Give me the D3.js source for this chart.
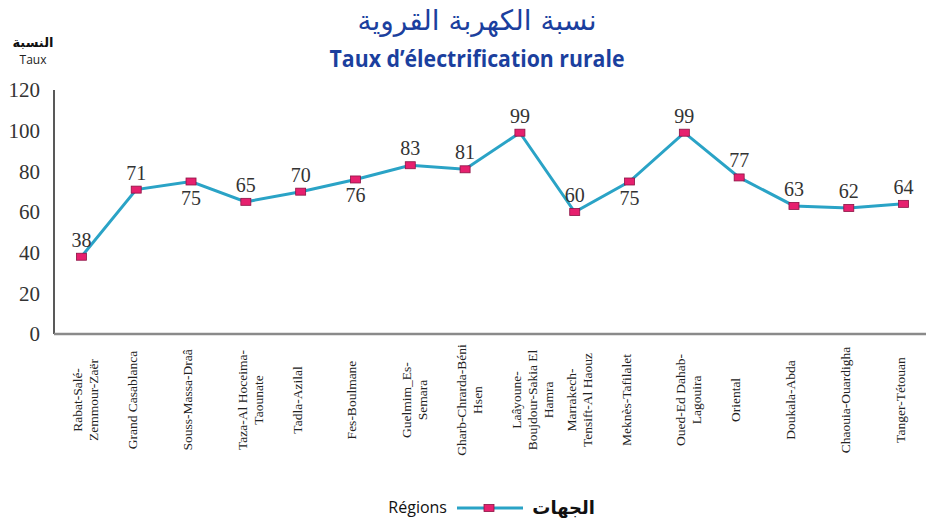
<!DOCTYPE html>
<html>
<head>
<meta charset="utf-8">
<script src="https://cdn.jsdelivr.net/npm/d3@7"></script>
<style>
  body { margin: 0; background: #fff; }
  svg { display: block; }
</style>
</head>
<body>
<div id="chart"></div>
<script>
// regions (label lines) and electrification rate (%)
var regions = [
    ["Rabat-Salé-", "Zemmour-Zaër"],
    ["Grand Casablanca"],
    ["Souss-Massa-Draâ"],
    ["Taza-Al Hoceima-", "Taounate"],
    ["Tadla-Azilal"],
    ["Fes-Boulmane"],
    ["Guelmim_Es-", "Semara"],
    ["Gharb-Chrarda-Béni", "Hsen"],
    ["Laâyoune-", "Boujdour-Sakia El", "Hamra"],
    ["Marrakech-", "Tensift-Al Haouz"],
    ["Meknès-Tafilalet"],
    ["Oued-Ed Dahab-", "Lagouira"],
    ["Oriental"],
    ["Doukala-Abda"],
    ["Chaouia-Ouardigha"],
    ["Tanger-Tétouan"]
];
var rates = [38, 71, 75, 65, 70, 76, 83, 81, 99, 60, 75, 99, 77, 63, 62, 64];
var yTicks = [0, 20, 40, 60, 80, 100, 120];
// value labels drawn under the marker
var labelBelow = [2, 5, 10];

var W = 926, H = 518;
var serif = "'Liberation Serif', 'Times New Roman', serif";
var sans = "'Open Sans', 'DejaVu Sans', sans-serif";
var blue = "#1b3f9e";

var svg = d3.select("#chart").append("svg")
    .attr("width", W)
    .attr("height", H);

var keys = regions.map(function(r, i) { return i; });
var x = d3.scaleBand().domain(keys).range([54, 931]);
var y = d3.scaleLinear().domain([0, 120]).range([334, 90]);

// titles
svg.append("text")
    .attr("x", 477).attr("y", 30)
    .attr("text-anchor", "middle")
    .attr("font-family", "'DejaVu Sans', sans-serif")
    .attr("font-size", "28px")
    .attr("fill", blue)
    .text("نسبة الكهربة القروية");

svg.append("text")
    .attr("x", 477).attr("y", 67)
    .attr("text-anchor", "middle")
    .attr("font-family", sans)
    .attr("font-weight", "bold")
    .attr("font-size", "23px")
    .attr("textLength", 295)
    .attr("lengthAdjust", "spacingAndGlyphs")
    .attr("fill", blue)
    .text("Taux d’électrification rurale");

svg.append("text")
    .attr("x", 33).attr("y", 47)
    .attr("text-anchor", "middle")
    .attr("font-family", "'DejaVu Sans', sans-serif")
    .attr("font-weight", "bold")
    .attr("font-size", "13px")
    .attr("fill", "#111")
    .text("النسبة");

svg.append("text")
    .attr("x", 33).attr("y", 64)
    .attr("text-anchor", "middle")
    .attr("font-family", sans)
    .attr("font-size", "12px")
    .attr("fill", "#222")
    .text("Taux");

// y axis
var yAxis = svg.append("g")
    .attr("transform", "translate(54,0)")
    .call(d3.axisLeft(y).tickValues(yTicks).tickSize(0).tickPadding(14));
yAxis.select(".domain").remove();
yAxis.selectAll("text")
    .attr("font-family", serif)
    .attr("font-size", "21px")
    .attr("fill", "#333");

svg.append("line")
    .attr("x1", 54).attr("x2", 54)
    .attr("y1", y(120)).attr("y2", y(0))
    .attr("stroke", "#222")
    .attr("stroke-width", 1.5);

svg.append("line")
    .attr("x1", 54).attr("x2", W)
    .attr("y1", y(0)).attr("y2", y(0))
    .attr("stroke", "#8a8a8a")
    .attr("stroke-width", 2.5);

// category labels
var cat = svg.append("g").selectAll("text")
    .data(regions)
    .enter().append("text")
    .attr("transform", function(d, i) {
        var cx = x(i) + x.bandwidth() / 2 + 1;
        return "translate(" + cx + ",400)rotate(-90)";
    })
    .attr("text-anchor", "middle")
    .attr("font-family", serif)
    .attr("font-size", "13.5px")
    .attr("fill", "#222");
cat.selectAll("tspan")
    .data(function(d) { return d; })
    .enter().append("tspan")
    .attr("x", 0)
    .attr("y", function(d, j) { return j * 16; })
    .text(function(d) { return d; });

// line and markers
var line = d3.line()
    .x(function(d, i) { return x(i) + x.bandwidth() / 2; })
    .y(function(d) { return y(d); });

svg.append("path")
    .datum(rates)
    .attr("d", line)
    .attr("fill", "none")
    .attr("stroke", "#2aa3c6")
    .attr("stroke-width", 3);

svg.selectAll("rect.marker")
    .data(rates)
    .enter().append("rect")
    .attr("class", "marker")
    .attr("x", function(d, i) { return x(i) + x.bandwidth() / 2 - 5; })
    .attr("y", function(d) { return y(d) - 3.5; })
    .attr("width", 10)
    .attr("height", 7)
    .attr("fill", "#e6206e")
    .attr("stroke", "#8c1244")
    .attr("stroke-width", 0.8);

svg.selectAll("text.val")
    .data(rates)
    .enter().append("text")
    .attr("class", "val")
    .attr("x", function(d, i) { return x(i) + x.bandwidth() / 2; })
    .attr("y", function(d, i) {
        return labelBelow.indexOf(i) >= 0 ? y(d) + 23 : y(d) - 10;
    })
    .attr("text-anchor", "middle")
    .attr("font-family", serif)
    .attr("font-size", "20px")
    .attr("fill", "#333")
    .text(function(d) { return d; });

// legend
svg.append("text")
    .attr("x", 447).attr("y", 513)
    .attr("text-anchor", "end")
    .attr("font-family", sans)
    .attr("font-size", "16px")
    .attr("fill", "#111")
    .text("Régions");

svg.append("line")
    .attr("x1", 457).attr("x2", 523)
    .attr("y1", 508).attr("y2", 508)
    .attr("stroke", "#2aa3c6")
    .attr("stroke-width", 3);

svg.append("rect")
    .attr("x", 484).attr("y", 504.5)
    .attr("width", 10).attr("height", 7)
    .attr("fill", "#e6206e")
    .attr("stroke", "#8c1244")
    .attr("stroke-width", 0.8);

svg.append("text")
    .attr("x", 595).attr("y", 514)
    .attr("text-anchor", "end")
    .attr("font-family", "'DejaVu Sans', sans-serif")
    .attr("font-weight", "bold")
    .attr("font-size", "18px")
    .attr("fill", "#111")
    .text("الجهات");
</script>
</body>
</html>
